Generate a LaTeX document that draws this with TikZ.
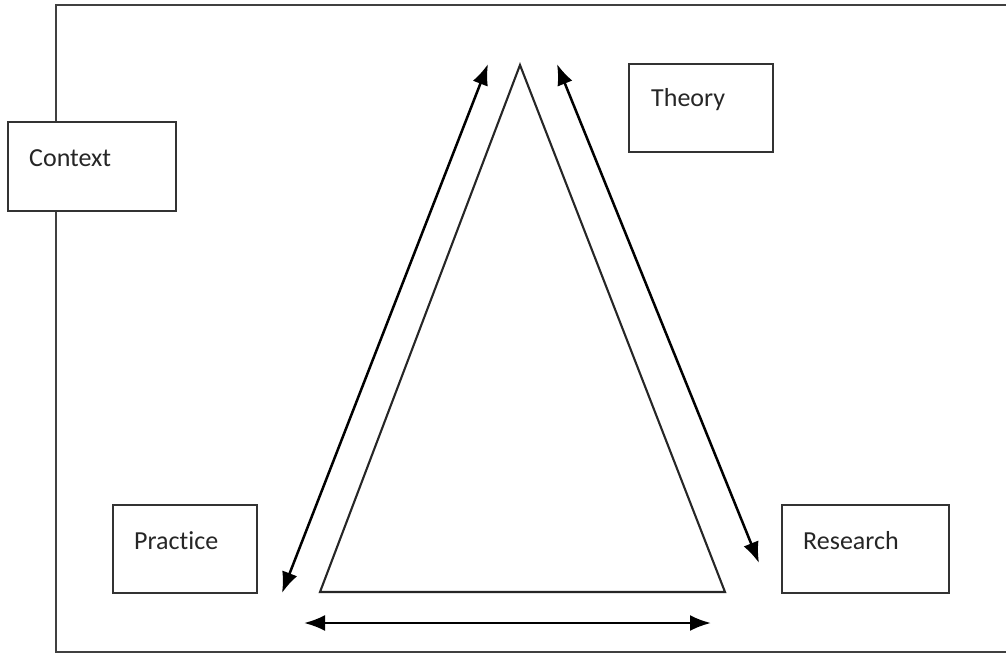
\documentclass[tikz,border=0pt]{standalone}
\usepackage{fontspec}
\setmainfont{Carlito}[Ligatures={NoCommon,NoRare,NoDiscretionary}]
\usetikzlibrary{arrows.meta}
\begin{document}
\begin{tikzpicture}[x=1pt,y=-1pt,
  box/.style={draw=black!80, line width=2.6pt, fill=white, inner sep=0pt},
  lbl/.style={inner sep=0pt, anchor=west, font=\fontsize{26}{30}\selectfont, text=black!85},
  link/.style={line width=2.5pt, {Latex[length=21pt,width=16pt]}-{Latex[length=21pt,width=16pt]}},
  tri/.style={draw=black!85, line width=2.1pt, line join=miter}]
  \useasboundingbox (0,0) rectangle (1006,654);
  % surrounding frame, open on the right
  \draw[black!75, line width=2.6pt] (1010,5) -- (56,5) -- (56,652) -- (1010,652);
  % the triangle
  \coordinate (apex) at (520,65);
  \coordinate (bl) at (320,592);
  \coordinate (br) at (725,592);
  \draw[tri] (apex) -- (br) -- (bl) -- cycle;
  % boxes
  \node[box, minimum width=168pt, minimum height=89pt] (context) at (92,166.5) {};
  \node[lbl] at (29,158) {Context};
  \node[box, minimum width=144pt, minimum height=88pt] (theory) at (701,108) {};
  \node[lbl] at (651,100) {Theory};
  \node[box, minimum width=144pt, minimum height=88pt] (practice) at (185,549) {};
  \node[lbl] at (134,541) {Practice};
  \node[box, minimum width=167pt, minimum height=88pt] (research) at (865.5,549) {};
  \node[lbl] at (803,541) {Research};
  % two-way arrows along the sides
  \coordinate (la) at (282,593);
  \coordinate (lb) at (488,64);
  \coordinate (ra) at (557,64);
  \coordinate (rb) at (759,563);
  \coordinate (ba) at (304,623);
  \coordinate (bb) at (711,623);
  \draw[link] (la) -- (lb);
  \draw[link] (ra) -- (rb);
  \draw[link] (ba) -- (bb);
\end{tikzpicture}
\end{document}
